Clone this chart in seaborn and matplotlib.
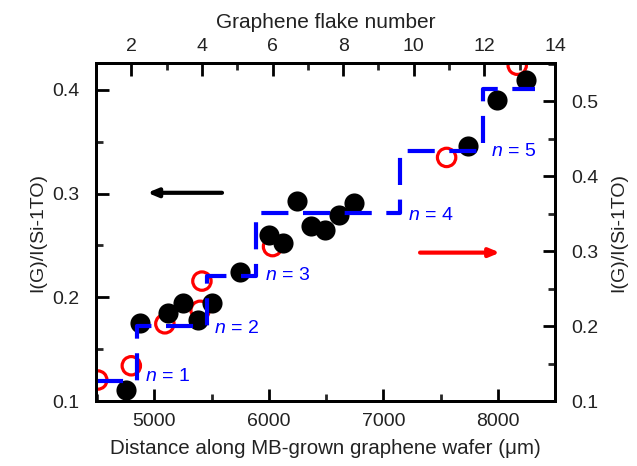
import numpy as np
import pandas as pd
import matplotlib
matplotlib.use("Agg")
import matplotlib.pyplot as plt
import seaborn as sns
from matplotlib.ticker import MultipleLocator

# ---- data ----
# black filled circles: distance along wafer (um) vs left-axis ratio
black_dist = [4748, 4875, 5120, 5251, 5377, 5504, 5749, 6000, 6122, 6247,
              6369, 6494, 6617, 6748, 7744, 7992, 8248]
black_ratio = [0.111, 0.175, 0.185, 0.195, 0.178, 0.195, 0.224, 0.260, 0.252,
               0.293, 0.269, 0.265, 0.279, 0.291, 0.346, 0.390, 0.410]

# red open circles: graphene flake number vs right-axis ratio
red_flake = [1.05, 2.0, 2.95, 3.95, 4.0, 6.0, 10.93, 12.93]
red_ratio = [0.128, 0.147, 0.203, 0.221, 0.260, 0.306, 0.425, 0.548]

# blue dashed step line (layer number levels), distance vs right-axis ratio
step_dist = [4490, 4849, 5456, 5890, 7147, 7872, 8327]
step_ratio = [0.127, 0.200, 0.267, 0.351, 0.433, 0.516, 0.516]
layer_labels = ["1", "2", "3", "4", "5"]

# ---- style ----
sns.set_style("ticks")
plt.rcParams['font.family'] = ['Liberation Sans', 'DejaVu Sans']
plt.rcParams['mathtext.fontset'] = 'custom'
plt.rcParams['mathtext.it'] = 'Liberation Sans:italic'
plt.rcParams['mathtext.rm'] = 'Liberation Sans'

fig = plt.figure(figsize=(6.37, 4.66), dpi=100)
ax = fig.add_axes([96/637, 1-401/466, 459/637, 338/466])
ax_r = ax.twinx()
ax_t = ax_r.twiny()

ax_t.set_zorder(1)
ax.set_zorder(2)
ax_r.set_zorder(3)
ax_t.patch.set_visible(True)
ax_t.patch.set_facecolor('white')
ax.patch.set_visible(False)
ax_r.patch.set_visible(False)

# red open circles (top x, right y)
df_red = pd.DataFrame({"flake": red_flake, "ratio": red_ratio})
sns.scatterplot(data=df_red, x="flake", y="ratio", ax=ax_t, s=175,
                facecolor='none', edgecolor='#ff0000', linewidth=2.3,
                legend=False)

# black filled circles (bottom x, left y)
df_black = pd.DataFrame({"dist": black_dist, "ratio": black_ratio})
sns.scatterplot(data=df_black, x="dist", y="ratio", ax=ax, s=210,
                color='black', edgecolor='black', linewidth=0, legend=False)

# blue dashed steps (bottom x, right y)
df_step = pd.DataFrame({"dist": step_dist, "ratio": step_ratio})
sns.lineplot(data=df_step, x="dist", y="ratio", ax=ax_r, color='#0000ff',
             linewidth=3, drawstyle='steps-post', dashes=False,
             linestyle=(0, (6.5, 3.5)), legend=False)

# limits
ax.set_xlim(4490, 8500)
ax.set_ylim(0.1, 0.426)
ax_r.set_ylim(0.1, 0.551)
ax_t.set_xlim(1, 14)

# ticks
fs_tick = 14
ax.xaxis.set_major_locator(MultipleLocator(1000))
ax.xaxis.set_minor_locator(MultipleLocator(500))
ax.yaxis.set_major_locator(MultipleLocator(0.1))
ax.yaxis.set_minor_locator(MultipleLocator(0.05))
ax_r.yaxis.set_major_locator(MultipleLocator(0.1))
ax_r.yaxis.set_minor_locator(MultipleLocator(0.05))
ax_t.xaxis.set_major_locator(MultipleLocator(2))
ax_t.xaxis.set_minor_locator(MultipleLocator(1))

for a in (ax, ax_r, ax_t):
    a.tick_params(which='major', direction='in', length=9, width=2,
                  labelsize=fs_tick, colors='black', labelcolor='#222222',
                  pad=12)
    a.tick_params(which='minor', direction='in', length=5, width=2)
    for sp in a.spines.values():
        sp.set_linewidth(2)
        sp.set_color('black')
        sp.set_visible(True)

ax.tick_params(axis='x', which='both', top=False, bottom=True)
ax.tick_params(axis='y', which='both', left=True, right=False)
ax_r.tick_params(axis='x', which='both', top=False, bottom=False,
                 labelbottom=False)
ax_r.tick_params(axis='y', which='both', right=True, left=False)
ax_t.tick_params(axis='x', which='both', top=True, bottom=False,
                 labeltop=True, labelbottom=False)
ax_t.tick_params(axis='x', which='major', pad=6)
ax.tick_params(axis='x', which='major', pad=9)

ax.yaxis.set_major_formatter(matplotlib.ticker.FormatStrFormatter('%.1f'))
ax_r.yaxis.set_major_formatter(matplotlib.ticker.FormatStrFormatter('%.1f'))

ax.set_xlabel("Distance along MB-grown graphene wafer (μm)", fontsize=14.8,
              labelpad=6, color='#222222')
ax.set_ylabel("I(G)/I(Si-1TO)", fontsize=14, labelpad=4, color='#222222')
ax_r.set_ylabel("I(G)/I(Si-1TO)", fontsize=14, labelpad=8,
                color='#222222')
ax_t.set_xlabel("Graphene flake number", fontsize=15, labelpad=7,
                color='#222222')

# layer labels
label_pos = [(0.107, 0.072), (0.256, 0.215), (0.368, 0.370), (0.680, 0.550),
             (0.860, 0.738)]
for lab, (fx, fy) in zip(layer_labels, label_pos):
    ax_r.text(fx, fy, r"$n$ = " + lab, transform=ax_r.transAxes,
              color='#0000ff', fontsize=14, ha='left', va='center')

# arrows
ax_r.annotate("", xy=(0.112, 0.616), xytext=(0.2745, 0.616),
              xycoords='axes fraction', textcoords='axes fraction',
              arrowprops=dict(arrowstyle='-|>,head_length=0.6,head_width=0.25',
                              color='black', lw=3, shrinkA=0, shrinkB=0))
ax_r.annotate("", xy=(0.880, 0.439), xytext=(0.706, 0.439),
              xycoords='axes fraction', textcoords='axes fraction',
              arrowprops=dict(arrowstyle='-|>,head_length=0.6,head_width=0.25',
                              color='#ff0000', lw=3, shrinkA=0, shrinkB=0))

fig.savefig("out.png", dpi=100)
